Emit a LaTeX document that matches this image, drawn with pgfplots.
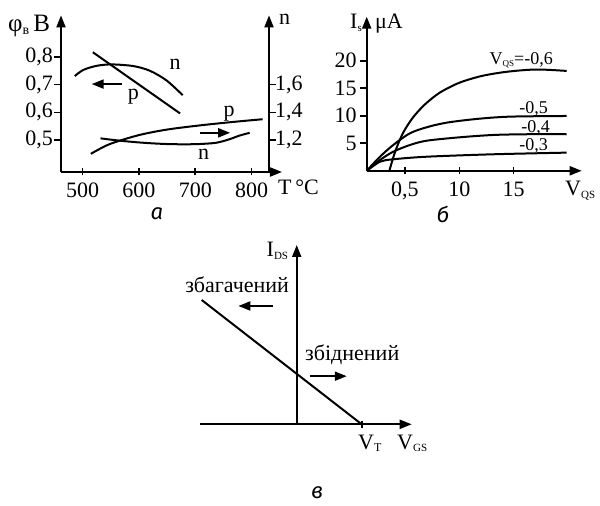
\documentclass[border=0pt]{standalone}
\usepackage{fontspec}
\setmainfont{Liberation Serif}
\newfontfamily\panelfont{Fira Sans}
\usepackage{pgfplots}
\pgfplotsset{compat=1.18}
\usetikzlibrary{arrows.meta}

\newcommand\sub[2][11]{\raisebox{-2.6pt}{\fontsize{#1}{#1}\selectfont #2}}
\newcommand\fbig{\fontsize{22}{26}\selectfont}
\newcommand\fhuge{\fontsize{25}{29}\selectfont}
\newcommand\fmid{\fontsize{18}{22}\selectfont}

\tikzset{
  lab/.style={inner sep=0pt},
  arr/.style={line width=2pt, -{Triangle[length=12pt,width=9pt]}},
}
\pgfplotsset{
  fig/.style={
    scale only axis, anchor=south west, clip=false,
    scaled ticks=false,
    tick label style={font=\fbig},
    tick align=center, major tick length=7pt,
    every axis plot/.append style={line width=2pt, black, no marks},
  },
  look/.style={
    axis line style={line width=2pt, -{Triangle[length=12pt,width=9pt]}},
    every outer x axis line/.append style={line width=2pt, -{Triangle[length=12pt,width=9pt]}},
    every outer y axis line/.append style={line width=2pt, -{Triangle[length=12pt,width=9pt]}},
    every inner x axis line/.append style={line width=2pt, -{Triangle[length=12pt,width=9pt]}},
    every inner y axis line/.append style={line width=2pt, -{Triangle[length=12pt,width=9pt]}},
    tick style={line width=1.6pt, black},
  },
}

\begin{document}
\fbig
\begin{tikzpicture}
\path[use as bounding box] (0,0) rectangle (600pt,506pt);

% ---------- а: barrier height and ideality factor against temperature
\begin{axis}[fig, at={(61pt,334pt)}, width=221pt, height=156.6pt,
  xmin=461.5, xmax=854, ymin=0.3845, ymax=0.95,
  axis lines=left, look,
  xtick={500,600,700,800},
  xticklabels={\textrm{500},\textrm{600},\textrm{700},\textrm{800}},
  ytick={0.5,0.6,0.7,0.8},
  yticklabels={\textrm{0,5},\textrm{0,6},\textrm{0,7},\textrm{0,8}},
  every major y tick/.append style={xshift=-3pt},
  yticklabel style={xshift=3pt},
]
\addplot[smooth] coordinates {(486,0.731) (501,0.753) (525,0.768) (552,0.773)
  (590,0.767) (619.5,0.750) (649,0.715) (677.6,0.662)};
\addplot[] coordinates {(518,0.817) (673,0.596)};
\draw[arr] (axis cs:570,0.702) -- (axis cs:516,0.702);
\draw[arr] (axis cs:708,0.526) -- (axis cs:762,0.526);
\node[lab, anchor=base] at (axis cs:664,0.753) {n};
\node[lab, anchor=base] at (axis cs:590,0.647) {p};
\node[lab, anchor=base] at (axis cs:760,0.584) {p};
\node[lab, anchor=base] at (axis cs:715,0.428) {n};
\end{axis}

\begin{axis}[fig, at={(61pt,334pt)}, width=208pt, height=156.6pt,
  xmin=461.5, xmax=832.5, ymin=0.969, ymax=2.1,
  axis x line=none, axis y line=right, look,
  ytick={1.2,1.4,1.6},
  yticklabels={\textrm{1,2},\textrm{1,4},\textrm{1,6}},
  every major y tick/.append style={xshift=3pt},
  yticklabel style={xshift=-5pt},
]
\addplot[smooth] coordinates {(514.7,1.100) (548,1.170) (600,1.235) (650,1.275)
  (708,1.305) (767,1.330) (821,1.350)};
\addplot[smooth] coordinates {(532,1.212) (560,1.198) (590,1.186) (620,1.177)
  (650,1.171) (680,1.169) (708,1.171) (738,1.180) (760,1.203) (780,1.232) (798,1.252)};
\end{axis}

\node[lab, anchor=base west, font=\fhuge] at (8pt,474pt) {φ\sub[14]{в}\,В};
\node[lab, anchor=base west] at (279pt,481pt) {n};
\node[lab, anchor=base west] at (278pt,311pt) {T\,°C};
\node[lab, font=\panelfont\itshape\fbig] at (157pt,292pt) {а};

% ---------- б: output characteristics
\begin{axis}[fig, at={(366.7pt,335.2pt)}, width=215pt, height=154.1pt,
  xmin=1.477, xmax=21.26, ymin=0, ymax=28,
  axis lines=left, look,
  xtick={5,10,15}, xticklabels={\textrm{0,5},\textrm{10},\textrm{15}},
  ytick={5,10,15,20}, yticklabels={\textrm{5},\textrm{10},\textrm{15},\textrm{20}},
  every major y tick/.append style={xshift=-3pt},
  yticklabel style={xshift=1pt},
]
\addplot[smooth] coordinates {(3.56,0) (4.1,3.5) (4.8,6.8) (5.7,9.6) (6.8,12.0)
  (8.2,14.2) (10,16.0) (12,17.2) (14,17.9) (16,18.3) (17.5,18.4) (19.88,18.15)};
\addplot[smooth] coordinates {(1.48,0) (2.7,2.56) (3.92,4.69) (5.46,6.82) (7.0,7.91)
  (8.84,8.75) (11.6,9.42) (14.66,9.84) (19.88,9.96)};
\addplot[smooth] coordinates {(1.48,0) (2.7,1.96) (3.92,3.47) (5.46,4.69) (7.0,5.47)
  (10.06,6.09) (13.12,6.51) (16.2,6.64) (19.88,6.64)};
\addplot[smooth] coordinates {(1.48,0) (2.7,1.65) (3.92,2.09) (7.0,2.56) (13.1,3.0) (19.88,3.3)};
\node[lab, anchor=base east, font=\fmid] at (axis cs:18.62,19.4) {V\sub[9]{QS}=-0,6};
\node[lab, anchor=base east, font=\fmid] at (axis cs:18.16,10.5) {-0,5};
\node[lab, anchor=base east, font=\fmid] at (axis cs:18.34,6.87) {-0,4};
\node[lab, anchor=base east, font=\fmid] at (axis cs:18.16,3.6) {-0,3};
\end{axis}

\node[lab, anchor=base east] at (362pt,477pt) {I\sub{s}};
\node[lab, anchor=base west] at (375pt,477pt) {μA};
\node[lab, anchor=base west] at (565pt,310pt) {V\sub{QS}};
\node[lab, font=\panelfont\itshape\fbig] at (443pt,292pt) {б};

% ---------- в: transfer characteristic
\begin{axis}[fig, at={(200pt,81.7pt)}, width=211.7pt, height=179.3pt,
  xmin=-1.488, xmax=1.769, ymin=0, ymax=2.758,
  axis lines=middle, look,
  xtick={1}, xticklabels={}, ytick=\empty,
]
\addplot[] coordinates {(-1.462,1.912) (1,0)};
\draw[arr] (axis cs:-0.36,1.82) -- (axis cs:-0.898,1.82);
\draw[arr] (axis cs:0.205,0.74) -- (axis cs:0.77,0.74);
\node[lab, anchor=base east] at (axis cs:-0.13,2.574) {I\sub{DS}};
\node[lab, anchor=base west] at (axis cs:-1.718,2.035) {збагачений};
\node[lab, anchor=base west] at (axis cs:0.128,0.989) {збіднений};
\node[lab, anchor=base west] at (axis cs:0.943,-0.38) {V\sub[12]{T}};
\node[lab, anchor=base west] at (axis cs:1.543,-0.38) {V\sub{GS}};
\end{axis}
\node[lab, font=\panelfont\itshape\fbig] at (317pt,13pt) {в};
\end{tikzpicture}
\end{document}
